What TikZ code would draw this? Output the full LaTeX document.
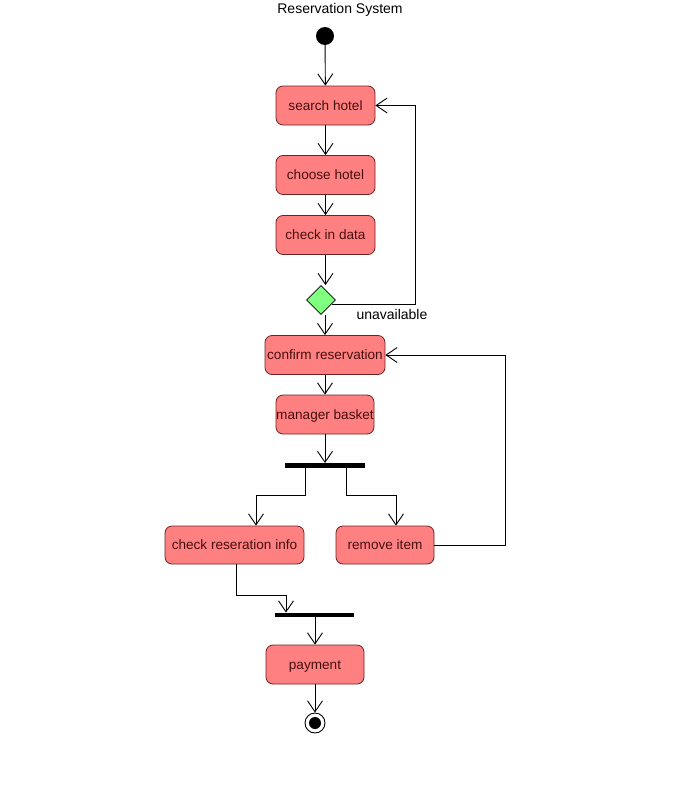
\documentclass[tikz,border=0pt]{standalone}
\usepackage{fontspec}
\setmainfont{Liberation Sans}
\usetikzlibrary{arrows.meta,shapes.geometric}
\definecolor{actfill}{RGB}{255,128,128}
\definecolor{actline}{RGB}{110,35,35}
\definecolor{acttext}{RGB}{70,15,15}
\definecolor{decfill}{RGB}{128,255,128}
\tikzset{
  activity/.style={draw=actline, fill=actfill, rounded corners=7pt, line width=0.8pt,
    minimum height=39pt, inner sep=0pt, text=acttext, text height=11.5pt, text depth=2pt,
    font=\fontsize{13.6}{16}\selectfont},
  decision/.style={diamond, draw=black, fill=decfill, line width=0.8pt,
    minimum width=29pt, minimum height=29pt, inner sep=0pt},
  bar/.style={fill=black, inner sep=0pt, minimum height=4.5pt},
  flow/.style={draw=black, line width=0.9pt,
    -{Straight Barb[length=11pt,width=15pt,line width=0.9pt]}},
  lbl/.style={font=\fontsize{14}{16}\selectfont, text=black}
}
\begin{document}
\begin{tikzpicture}[x=1pt,y=-1pt]
\useasboundingbox (0,0) rectangle (677,795);
\fill[white] (0,0) rectangle (677,795);

\node[lbl] (title) at (340,9.5) {Reservation System};

% start node
\node[circle, fill=black, minimum size=18pt, inner sep=0pt] (start) at (325,36) {};

% activities
\node[activity, minimum width=99pt] (sh) at (325.5,105.5) {search hotel};
\node[activity, minimum width=99pt] (ch) at (325.5,175) {choose hotel};
\node[activity, minimum width=99pt] (cd) at (325.5,235) {check in data};
\node[decision] (dec) at (321,300) {};
\node[activity, minimum width=120pt] (cr) at (325,355) {confirm reservation};
\node[activity, minimum width=98pt] (mb) at (325,414.5) {manager basket};
\node[bar, minimum width=80pt] (fork) at (325,465.5) {};
\node[activity, minimum width=139pt, minimum height=38pt] (cri) at (234.5,545) {check reseration info};
\node[activity, minimum width=98pt, minimum height=38pt] (ri) at (385,545) {remove item};
\node[bar, minimum width=79pt] (join) at (314.5,615) {};
\node[activity, minimum width=98pt] (pay) at (315,664.5) {payment};

% final node
\node[circle, draw=black, fill=white, line width=0.9pt, minimum size=20pt, inner sep=0pt] (end) at (315,723) {};
\node[circle, fill=black, minimum size=12pt, inner sep=0pt] (endin) at (end.center) {};

% routing points
\coordinate (la) at (415,105.5);
\coordinate (lb) at (505,355);
\coordinate (fa1) at (305,495);
\coordinate (fa2) at (256,495);
\coordinate (fb1) at (346,495);
\coordinate (fb2) at (396,495);
\coordinate (ja) at (236,595);
\coordinate (jb) at (286,595);

% flows
\draw[flow] (start) -- (sh);
\draw[flow] (sh) -- (ch);
\draw[flow] (ch) -- (cd);
\draw[flow] (cd.south) -- (cd.south |- dec.north);
\draw[flow] (dec.-20) -| (la) -- (sh.east);
\node[lbl, anchor=west] (unav) at (353,314.5) {unavailable};
\draw[flow] (cr.north |- dec.south) -- (cr.north);
\draw[flow] (cr) -- (mb);
\draw[flow] (mb) -- (fork.north);
\draw[flow] (fork.south -| fa1) -- (fa1) -- (fa2) -- (fa2 |- cri.north);
\draw[flow] (fork.south -| fb1) -- (fb1) -- (fb2) -- (fb2 |- ri.north);
\draw[flow] (ri.east) -| (lb) -- (cr.east);
\draw[flow] (cri.south -| ja) -- (ja) -- (jb) -- (jb |- join.north);
\draw[flow] (join.south -| pay.north) -- (pay.north);
\draw[flow] (pay) -- (end);
\end{tikzpicture}
\end{document}
